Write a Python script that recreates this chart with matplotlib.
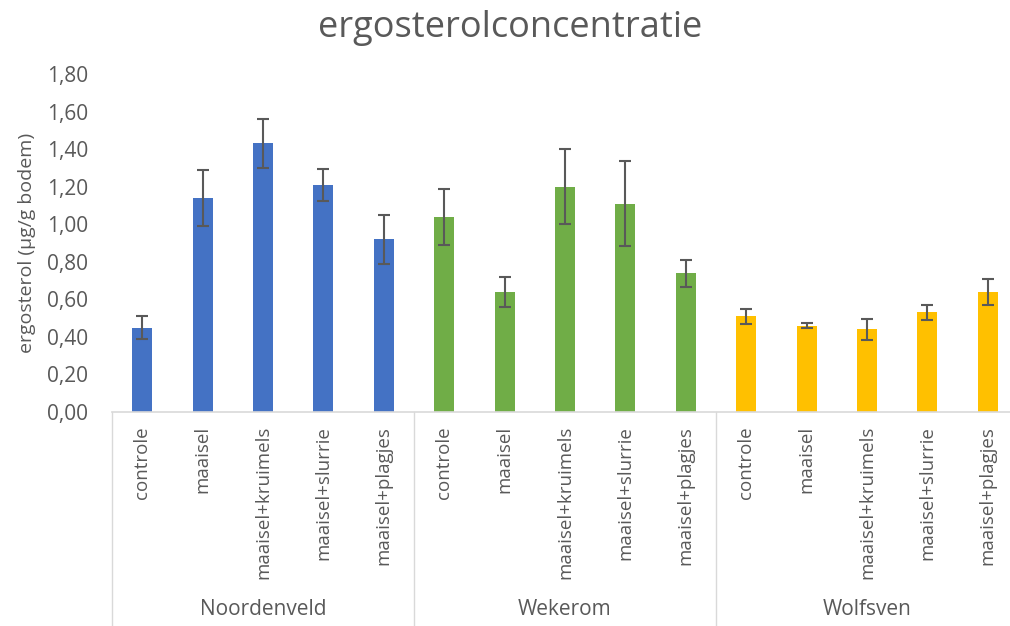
import numpy as np
from matplotlib import pyplot as plt
from matplotlib.ticker import FuncFormatter

plt.rcParams["font.family"] = ["Open Sans", "DejaVu Sans"]

# Data
groups = ["Noordenveld", "Wekerom", "Wolfsven"]
treatments = ["controle", "maaisel", "maaisel+kruimels", "maaisel+slurrie", "maaisel+plagjes"]
group_colors = ["#4472C4", "#70AD47", "#FFC000"]

noordenveld = [0.45, 1.14, 1.43, 1.21, 0.92]
noordenveld_err = [0.06, 0.15, 0.13, 0.085, 0.13]
wekerom = [1.04, 0.64, 1.20, 1.11, 0.74]
wekerom_err = [0.15, 0.08, 0.20, 0.225, 0.072]
wolfsven = [0.51, 0.46, 0.44, 0.53, 0.64]
wolfsven_err = [0.04, 0.015, 0.055, 0.04, 0.07]

text_color = "#595959"


def main() -> None:
    fig = plt.figure(figsize=(10.1, 6.26), dpi=100)
    # axes span is a bit wider than the picture, like the cropped original
    ax = fig.add_axes([112 / 1010, 214 / 626, 906 / 1010, 338 / 626])

    values = [noordenveld, wekerom, wolfsven]
    errors = [noordenveld_err, wekerom_err, wolfsven_err]
    n = len(treatments)
    for g in range(len(groups)):
        x = np.arange(n) + g * n
        ax.bar(x, values[g], width=0.33, color=group_colors[g], zorder=2)
        ax.errorbar(x, values[g], yerr=errors[g], fmt="none", ecolor="#595959",
                    elinewidth=1.5, capsize=4.5, capthick=1.5, zorder=3)

    ax.set_xlim(-0.5, 3 * n - 0.5)
    ax.set_ylim(0, 1.8)
    ax.set_yticks(np.arange(0, 1.81, 0.2))
    ax.yaxis.set_major_formatter(FuncFormatter(lambda v, p: f"{v:.2f}".replace(".", ",")))
    ax.tick_params(axis="y", length=0, pad=17, labelsize=15, labelcolor=text_color)

    ax.set_xticks(np.arange(3 * n))
    ax.set_xticklabels(treatments * 3, rotation=90, fontsize=13.5, color=text_color)
    ax.tick_params(axis="x", length=0, pad=10)

    for side in ["top", "right", "left"]:
        ax.spines[side].set_visible(False)
    ax.spines["bottom"].set_color("#D9D9D9")
    ax.spines["bottom"].set_linewidth(1.2)

    # group separators below the axis
    trans = ax.get_xaxis_transform()
    for g in range(len(groups) + 1):
        xs = g * n - 0.5
        ax.plot([xs, xs], [0, -0.64], transform=trans, color="#D9D9D9",
                lw=1, clip_on=False)
    for g, name in enumerate(groups):
        ax.text(g * n + (n - 1) / 2, -0.585, name, transform=trans, ha="center",
                va="center", fontsize=15, color=text_color)

    ax.set_ylabel("ergosterol (µg/g bodem)", fontsize=14, color=text_color, labelpad=8)
    fig.text(0.505, 0.955, "ergosterolconcentratie", ha="center", va="center",
             fontsize=26, color=text_color)

    fig.savefig("out.png", dpi=100)


if __name__ == "__main__":
    main()
